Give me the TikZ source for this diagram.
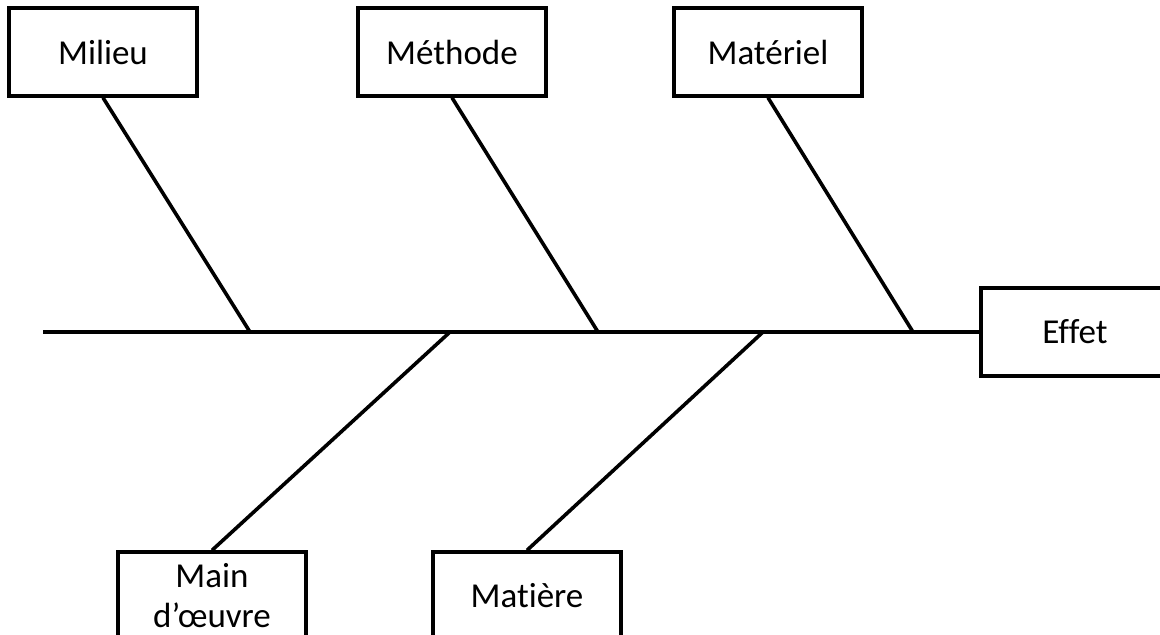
\documentclass[tikz,border=0pt]{standalone}
\usepackage{fontspec}
\setmainfont{Carlito}[Ligatures=NoCommon]
\usepackage{tikz}

\begin{document}
\begin{tikzpicture}[x=0.5pt, y=-0.5pt, line width=1.8pt,
  every node/.style={rectangle, draw, line width=1.7pt, minimum width=94pt, minimum height=44pt, align=center, font=\fontsize{17.5}{20}\selectfont}]
\useasboundingbox (0,0) rectangle (1160,635);
\node (milieu) at (103,52) {Milieu};
\node (methode) at (452,52) {Méthode};
\node (materiel) at (768,52) {Matériel};
\node (effet) at (1075,332) {Effet};
\node (main) at (212,596) {Main\\d’œuvre};
\node (matiere) at (527,596) {Matière};
\coordinate (tail) at (43,332);
\coordinate (j1) at (250,332);
\coordinate (j2) at (450,332);
\coordinate (j3) at (598,332);
\coordinate (j4) at (763,332);
\coordinate (j5) at (913,332);
\draw (tail) -- (effet.west);
\draw (milieu.south) -- (j1);
\draw (methode.south) -- (j3);
\draw (materiel.south) -- (j5);
\draw (j2) -- (main.north);
\draw (j4) -- (matiere.north);
\end{tikzpicture}
\end{document}
